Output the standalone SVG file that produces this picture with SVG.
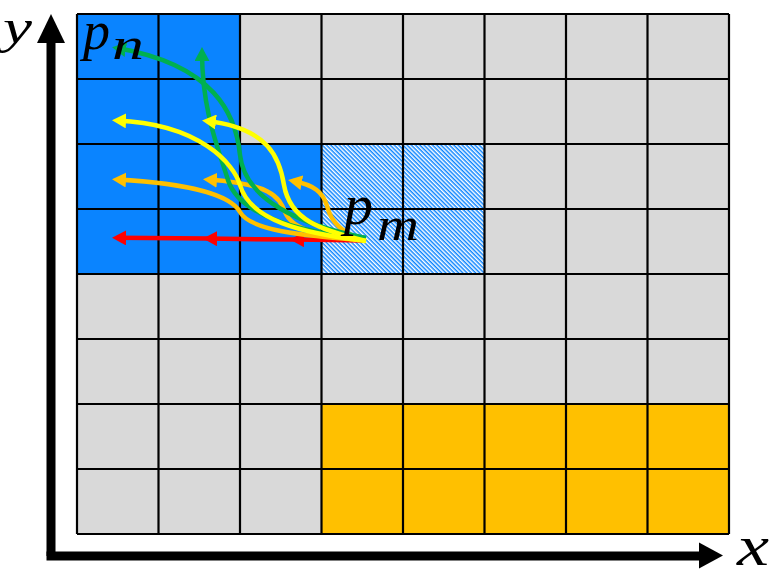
<svg xmlns="http://www.w3.org/2000/svg" width="777" height="580" viewBox="0 0 777 580">
<style>
.cell-gray{fill:#D9D9D9}
.cell-blue{fill:#0A84FF}
.cell-orange{fill:#FFC000}
.gridline{fill:none;stroke:#000;stroke-width:2.2}
.arr{fill:none;stroke-width:4.5;stroke-linecap:butt;stroke-linejoin:round}
.lbl{font-family:"Liberation Serif","Times New Roman",serif;font-style:italic;fill:#000}
</style>
<defs>
<pattern id="hatch" patternUnits="userSpaceOnUse" width="3" height="3" patternTransform="rotate(-45)">
<rect width="3" height="3" fill="#0A84FF"/>
<rect width="1.5" height="3" fill="#FFFFFF"/>
</pattern>
<marker id="ah-yellow" viewBox="0 0 14 15" markerWidth="14" markerHeight="15" refX="9" refY="7.5" orient="auto" markerUnits="userSpaceOnUse"><path d="M0,0 L14,7.5 L0,15 z" fill="#FFFF00"/></marker>
<marker id="ah-orange" viewBox="0 0 14 15" markerWidth="14" markerHeight="15" refX="9" refY="7.5" orient="auto" markerUnits="userSpaceOnUse"><path d="M0,0 L14,7.5 L0,15 z" fill="#FFC000"/></marker>
<marker id="ah-green" viewBox="0 0 14 15" markerWidth="14" markerHeight="15" refX="9" refY="7.5" orient="auto" markerUnits="userSpaceOnUse"><path d="M0,0 L14,7.5 L0,15 z" fill="#00B050"/></marker>
<marker id="ah-red" viewBox="0 0 14 15" markerWidth="14" markerHeight="15" refX="9" refY="7.5" orient="auto" markerUnits="userSpaceOnUse"><path d="M0,0 L14,7.5 L0,15 z" fill="#FF0000"/></marker>
</defs>

<g id="grid">
<rect class="cell-gray" x="77" y="14" width="652" height="520"/>
<rect class="cell-blue" x="77" y="14" width="163" height="260"/>
<rect class="cell-blue" x="240" y="144" width="81.5" height="130"/>
<rect fill="url(#hatch)" x="321.5" y="144" width="163" height="130"/>
<rect class="cell-orange" x="321.5" y="404" width="407.5" height="130"/>
<path class="gridline" d="M77,14V534M158.5,14V534M240,14V534M321.5,14V534M403,14V534M484.5,14V534M566,14V534M647.5,14V534M729,14V534M77,14H729M77,79H729M77,144H729M77,209H729M77,274H729M77,339H729M77,404H729M77,469H729M77,534H729"/>
</g>

<g id="axes">
<rect x="46.5" y="40" width="9" height="516" fill="#000"/>
<polygon points="51,14 37,43 65,43" fill="#000"/>
<rect x="46.5" y="551.5" width="656" height="9" fill="#000"/>
<polygon points="723,555.5 699,542.5 699,568.5" fill="#000"/>
</g>

<g id="connectors">
<path class="arr" stroke="#FF0000" marker-mid="url(#ah-red)" marker-end="url(#ah-red)" d="M365,240.5 L295,239.6 L208,238.6 L117,237.8"/>
<path id="orange1" class="arr" stroke="#FFC000" marker-end="url(#ah-orange)" d="M365,240 C300,236 250,230 240,212 C232,198 200,184 117,179.5"/>
<path id="orange2" class="arr" stroke="#FFC000" marker-end="url(#ah-orange)" d="M365,240 C320,236 292,230 285,212 C279,196 270,184 208,179.5"/>
<path id="orange3" class="arr" stroke="#FFC000" marker-end="url(#ah-orange)" d="M365,240 C342,234 331,222 327,206 C323,192 314,185 293,181"/>
<path id="green1" class="arr" stroke="#00B050" marker-end="url(#ah-green)" d="M366,238 C300,225 245,200 240,155 C236,115 215,65 117,48"/>
<path id="green2" class="arr" stroke="#00B050" marker-end="url(#ah-green)" d="M366,238 C290,232 238,212 228,180 C218,148 202,110 202,52"/>
<path id="yellow1" class="arr" stroke="#FFFF00" marker-end="url(#ah-yellow)" d="M366,241 C300,233 250,220 240,185 C234,164 200,124 117,120.5"/>
<path id="yellow2" class="arr" stroke="#FFFF00" marker-end="url(#ah-yellow)" d="M366,241 C320,230 290,220 284,185 C280,160 270,128 207,121"/>
</g>

<g id="labels">
<text class="lbl" x="83" y="48.5" font-size="54">p<tspan x="112" y="59" font-size="44" textLength="32" lengthAdjust="spacingAndGlyphs">n</tspan></text>
<text class="lbl" x="344" y="224" font-size="58">p<tspan x="377" y="240" font-size="46" textLength="42" lengthAdjust="spacingAndGlyphs">m</tspan></text>
<text class="lbl" x="3" y="43" font-size="48" textLength="29" lengthAdjust="spacingAndGlyphs">y</text>
<text class="lbl" x="737" y="565" font-size="58" textLength="32" lengthAdjust="spacingAndGlyphs">x</text>
</g>
</svg>
